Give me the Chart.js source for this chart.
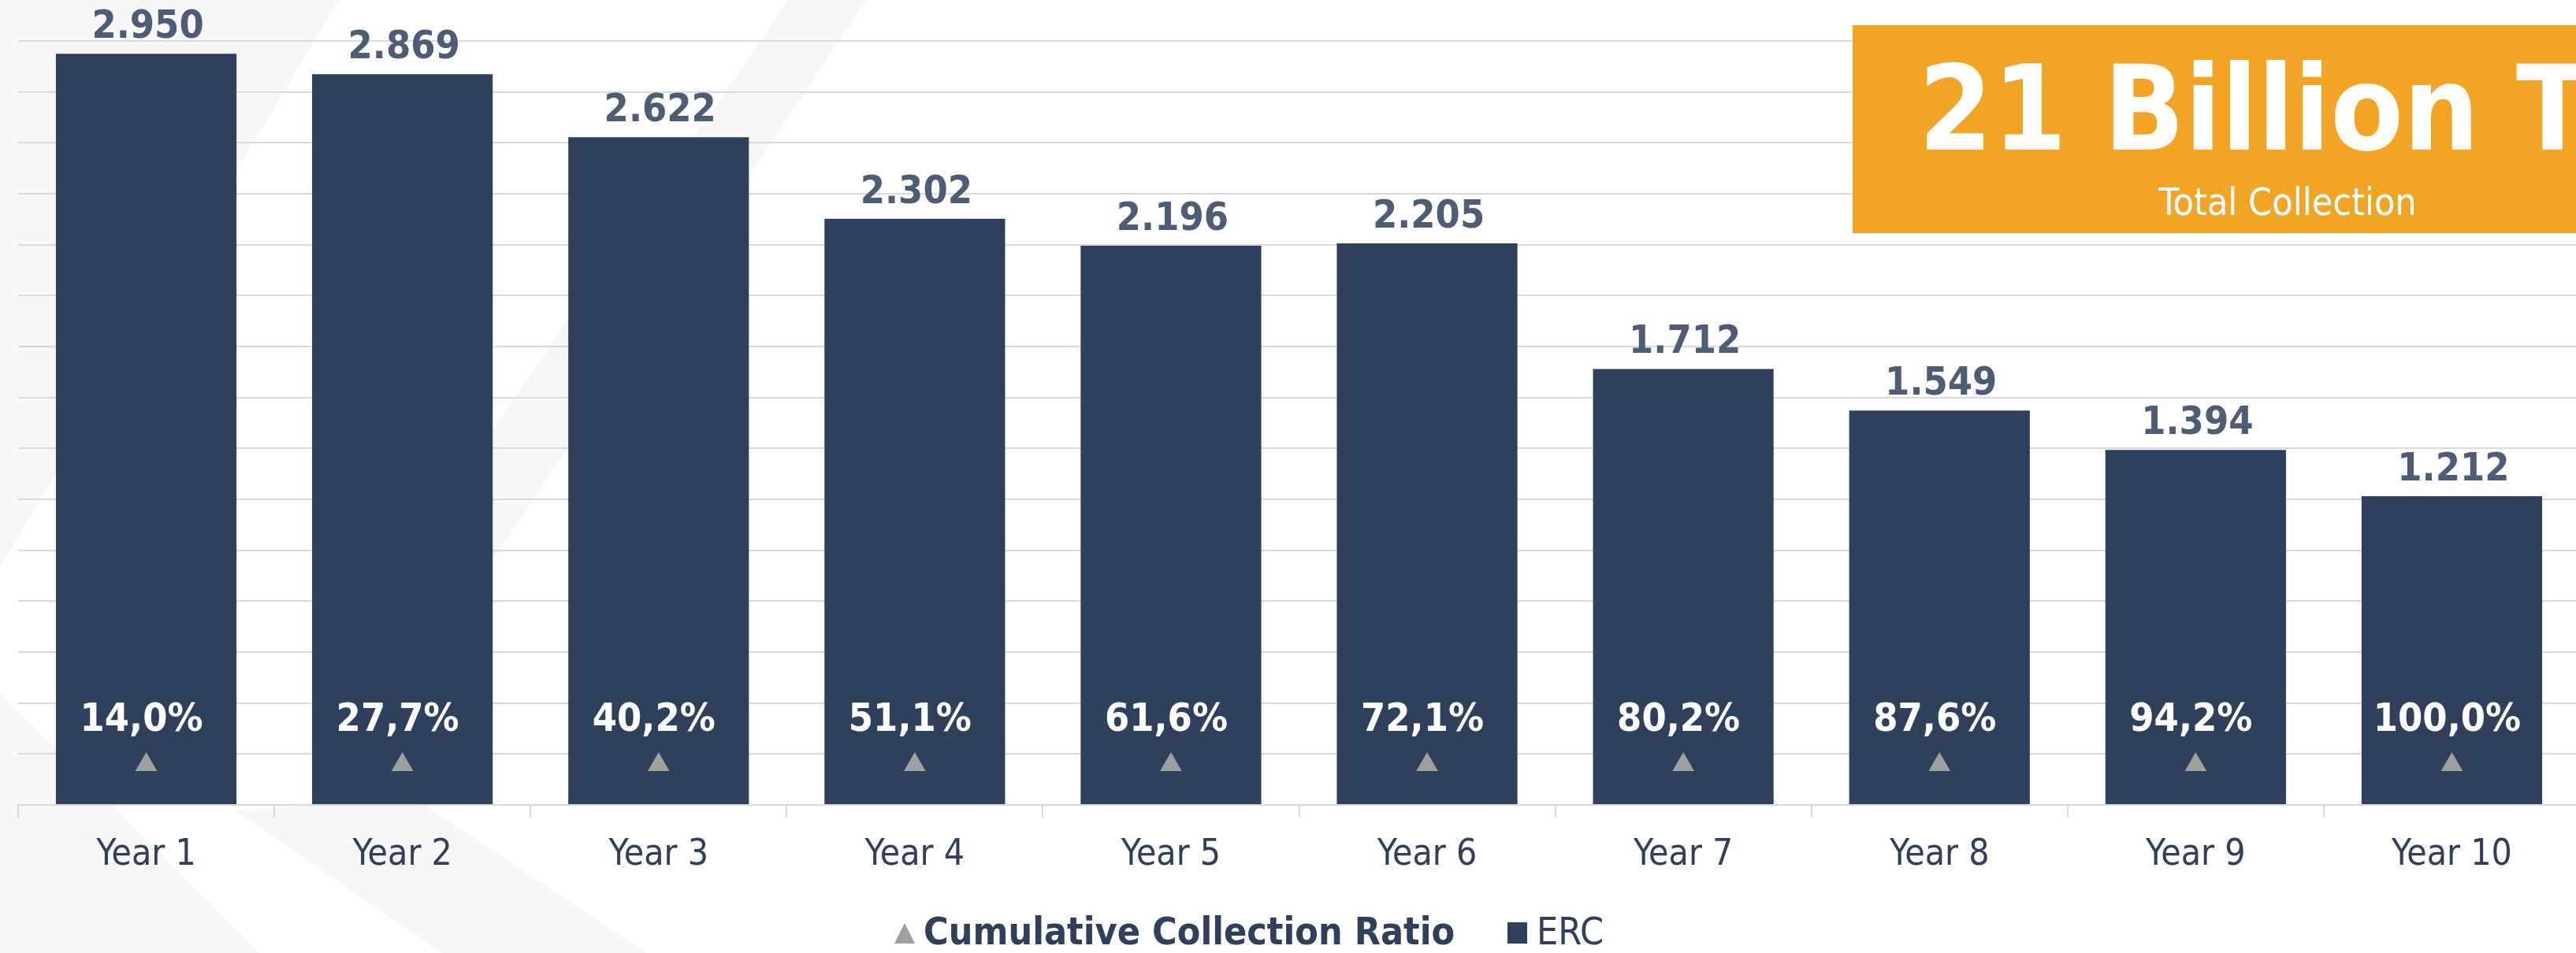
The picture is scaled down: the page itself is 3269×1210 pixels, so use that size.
<!DOCTYPE html>
<html>
<head>
<meta charset="utf-8">
<script src="https://cdn.jsdelivr.net/npm/chart.js@4.4.1/dist/chart.umd.min.js"></script>
<style>
  html, body { margin: 0; padding: 0; background: #ffffff; overflow: hidden; }
  #wrap { position: relative; width: 3290px; height: 1210px; }
</style>
</head>
<body>
<div id="wrap"><canvas id="erc" width="3290" height="1210"></canvas></div>
<script>
const categories = ['Year 1', 'Year 2', 'Year 3', 'Year 4', 'Year 5', 'Year 6', 'Year 7', 'Year 8', 'Year 9', 'Year 10'];
const ercValues = [2950, 2869, 2622, 2302, 2196, 2205, 1712, 1549, 1394, 1212];
const cumulativeRatio = [14.0, 27.7, 40.2, 51.1, 61.6, 72.1, 80.2, 87.6, 94.2, 100.0];
const totalTitle = '21 Billion TL';
const totalSubtitle = 'Total Collection';

const FONT = '"DejaVu Sans Condensed", "DejaVu Sans", sans-serif';
const NAVY = '#2f405c';
const markerLevel = 158; // triangles sit on a fixed row near the bottom of the bars

function fmtThousands(v) {
    const s = String(Math.round(v));
    return s.replace(/\B(?=(\d{3})+(?!\d))/g, '.');
}
function fmtRatio(v) {
    return v.toFixed(1).replace('.', ',') + '%';
}

// faint diagonal shapes behind the chart
const backdrop = {
    id: 'backdrop',
    beforeDraw(chart) {
        const c = chart.ctx;
        c.save();
        c.fillStyle = '#f7f7f7';
        const polys = [
            [[0, 0], [430, 0], [0, 720]],
            [[0, 880], [330, 1210], [0, 1210]],
            [[300, 1030], [560, 1210], [820, 1210], [520, 1010]],
            [[1000, 0], [1100, 0], [620, 720], [560, 640]]
        ];
        polys.forEach(p => {
            c.beginPath();
            c.moveTo(p[0][0], p[0][1]);
            for (let i = 1; i < p.length; i++) c.lineTo(p[i][0], p[i][1]);
            c.closePath();
            c.fill();
        });
        c.restore();
    }
};

// value labels, total box and legend
const overlay = {
    id: 'overlay',
    afterDatasetsDraw(chart) {
        const c = chart.ctx;
        c.save();
        c.textAlign = 'center';
        c.textBaseline = 'alphabetic';

        const barMeta = chart.getDatasetMeta(1);
        c.fillStyle = '#4e5d77';
        c.font = 'bold 50px ' + FONT;
        barMeta.data.forEach((bar, i) => {
            c.fillText(fmtThousands(ercValues[i]), bar.x + 2, bar.y - 20);
        });

        const ptMeta = chart.getDatasetMeta(0);
        c.fillStyle = '#ffffff';
        c.font = 'bold 50px ' + FONT;
        ptMeta.data.forEach((pt, i) => {
            c.fillText(fmtRatio(cumulativeRatio[i]), pt.x - 6, pt.y - 43);
        });
        c.restore();
    },
    afterDraw(chart) {
        const c = chart.ctx;
        c.save();
        // total box
        c.fillStyle = '#f2a424';
        c.fillRect(2351, 32, 1104, 264);
        c.fillStyle = '#ffffff';
        c.textAlign = 'center';
        c.textBaseline = 'alphabetic';
        c.font = 'bold 150px ' + FONT;
        c.fillText(totalTitle, 2903, 190);
        c.font = '48px ' + FONT;
        c.fillText(totalSubtitle, 2903, 273);

        // legend
        c.textAlign = 'left';
        c.fillStyle = '#a0a09e';
        c.beginPath();
        c.moveTo(1148, 1172);
        c.lineTo(1161, 1198);
        c.lineTo(1135, 1198);
        c.closePath();
        c.fill();
        c.fillStyle = NAVY;
        c.font = 'bold 48px ' + FONT;
        c.fillText(chart.data.datasets[0].label, 1172, 1199);
        c.fillRect(1913, 1171, 25, 27);
        c.font = '48px ' + FONT;
        c.fillText(chart.data.datasets[1].label, 1950, 1199);
        c.restore();
    }
};

new Chart(document.getElementById('erc'), {
    type: 'bar',
    data: {
        labels: categories,
        datasets: [{
            type: 'line',
            label: 'Cumulative Collection Ratio',
            data: cumulativeRatio.map(() => markerLevel),
            showLine: false,
            pointStyle: 'triangle',
            pointRadius: 16,
            pointHoverRadius: 16,
            pointBackgroundColor: '#a0a09e',
            pointBorderWidth: 0,
            order: 0
        }, {
            label: 'ERC',
            data: ercValues,
            backgroundColor: NAVY,
            categoryPercentage: 1,
            barPercentage: 0.705,
            order: 1
        }]
    },
    options: {
        responsive: false,
        devicePixelRatio: 1,
        animation: false,
        layout: { padding: { left: 23, right: 10, top: 52, bottom: 100 } },
        plugins: {
            legend: { display: false },
            tooltip: { enabled: false }
        },
        scales: {
            x: {
                grid: { drawOnChartArea: false, drawTicks: true, tickLength: 16, color: '#d9d9d9', lineWidth: 2 },
                border: { display: true, color: '#d9d9d9', width: 2 },
                ticks: { color: '#2f405c', font: { family: FONT, size: 46 }, padding: 20 },
                afterFit(s) { s.height = 88; }
            },
            y: {
                min: 0,
                max: 3000,
                ticks: { display: false, stepSize: 200 },
                grid: { color: '#dadada', lineWidth: 2, drawTicks: false },
                border: { display: false },
                afterFit(s) { s.width = 0; }
            }
        }
    },
    plugins: [backdrop, overlay]
});
</script>
</body>
</html>
